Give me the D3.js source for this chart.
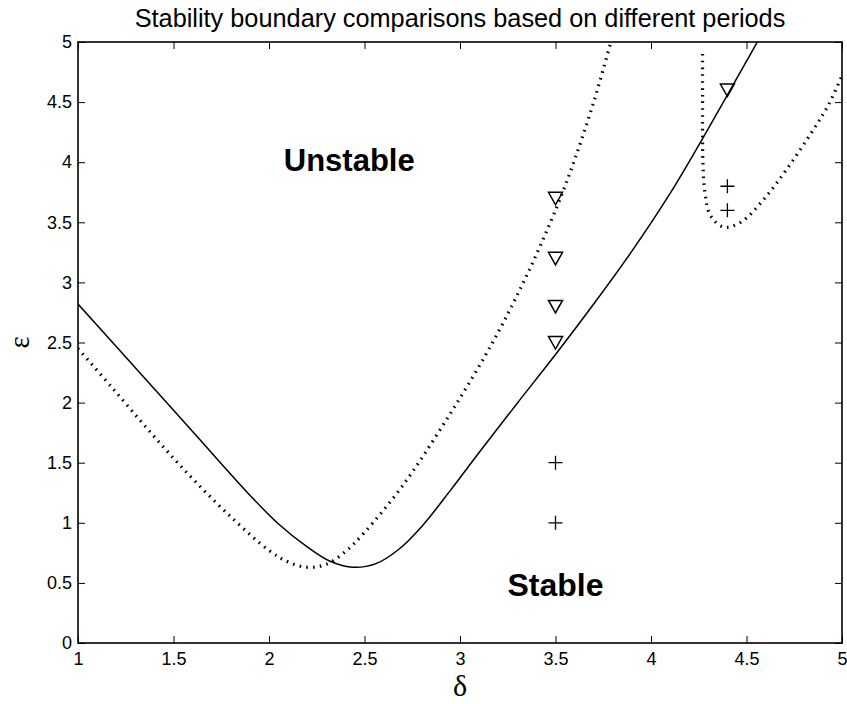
<!DOCTYPE html>
<html>
<head>
<meta charset="utf-8">
<script src="https://cdn.jsdelivr.net/npm/d3@7"></script>
<style>
  body { margin: 0; background: #fff; }
  text { fill: #000; }
</style>
</head>
<body>
<svg width="847" height="704"></svg>
<script>
// curve samples, [delta, epsilon]
const solidBoundary = [
  [1.00, 2.82], [1.30, 2.29], [1.60, 1.76], [1.90, 1.23], [2.05, 0.99],
  [2.20, 0.80], [2.32, 0.68], [2.44, 0.63], [2.56, 0.66], [2.68, 0.78],
  [2.80, 0.97], [2.95, 1.27], [3.10, 1.585], [3.30, 1.995], [3.50, 2.40],
  [3.70, 2.82], [3.90, 3.26], [4.10, 3.74], [4.30, 4.28], [4.50, 4.84],
  [4.56, 5.01]
];

const dottedBoundary = [
  [1.00, 2.45], [1.17, 2.14], [1.37, 1.77], [1.58, 1.40], [1.80, 1.05],
  [2.00, 0.77], [2.10, 0.675], [2.20, 0.63], [2.30, 0.655], [2.40, 0.76],
  [2.50, 0.92], [2.70, 1.31], [2.93, 1.86], [3.16, 2.47], [3.35, 3.06],
  [3.51, 3.64], [3.60, 4.02], [3.70, 4.50], [3.79, 5.00]
];

const dottedIsland = [
  [4.270, 4.90], [4.270, 4.55], [4.272, 3.99], [4.283, 3.74], [4.31, 3.56],
  [4.38, 3.46], [4.47, 3.50], [4.59, 3.69], [4.71, 3.94], [4.85, 4.27],
  [4.93, 4.48], [5.00, 4.72]
];

// test points
const unstablePoints = [[3.5, 3.7], [3.5, 3.2], [3.5, 2.8], [3.5, 2.5], [4.4, 4.6]];
const stablePoints = [[3.5, 1.5], [3.5, 1.0], [4.4, 3.8], [4.4, 3.6]];

const xTicks = [1, 1.5, 2, 2.5, 3, 3.5, 4, 4.5, 5];
const yTicks = [0, 0.5, 1, 1.5, 2, 2.5, 3, 3.5, 4, 4.5, 5];

const titleText = "Stability boundary comparisons based on different periods";

// layout
const margin = { top: 42, right: 5, bottom: 61, left: 78 };
const width = 847 - margin.left - margin.right;
const height = 704 - margin.top - margin.bottom;

const svg = d3.select("svg");
const sans = "'Liberation Sans', Arial, Helvetica, sans-serif";
const serif = "'Liberation Serif', 'Times New Roman', serif";

const x = d3.scaleLinear().domain([1, 5]).range([0, width]);
const y = d3.scaleLinear().domain([0, 5]).range([height, 0]);

const g = svg.append("g")
  .attr("transform", "translate(" + margin.left + "," + margin.top + ")");

svg.append("defs").append("clipPath")
  .attr("id", "plot-clip")
  .append("rect")
  .attr("width", width)
  .attr("height", height);

// axes, ticks pointing inwards on all four sides
const fmt = d => String(d);

g.append("g")
  .attr("class", "axis")
  .attr("transform", "translate(0," + height + ")")
  .call(d3.axisBottom(x).tickValues(xTicks).tickFormat(fmt).tickSizeInner(-7).tickSizeOuter(0).tickPadding(9));

g.append("g")
  .attr("class", "axis")
  .call(d3.axisLeft(y).tickValues(yTicks).tickFormat(fmt).tickSizeInner(-7).tickSizeOuter(0).tickPadding(6));

g.append("g")
  .attr("class", "axis")
  .call(d3.axisTop(x).tickValues(xTicks).tickFormat("").tickSizeInner(-7).tickSizeOuter(0));

g.append("g")
  .attr("class", "axis")
  .attr("transform", "translate(" + width + ",0)")
  .call(d3.axisRight(y).tickValues(yTicks).tickFormat("").tickSizeInner(-7).tickSizeOuter(0));

g.selectAll(".axis .domain").remove();
g.selectAll(".axis line").attr("stroke", "#000").attr("stroke-width", 1);
g.selectAll(".axis text")
  .style("font-family", sans)
  .style("font-size", "18px")
  .attr("fill", "#000");

g.append("rect")
  .attr("width", width)
  .attr("height", height)
  .attr("fill", "none")
  .attr("stroke", "#000")
  .attr("stroke-width", 1.6);

// boundaries
const line = d3.line()
  .x(d => x(d[0]))
  .y(d => y(d[1]))
  .curve(d3.curveCatmullRom.alpha(0.5));

const curves = g.append("g").attr("clip-path", "url(#plot-clip)");

curves.append("path")
  .datum(solidBoundary)
  .attr("d", line)
  .attr("fill", "none")
  .attr("stroke", "#000")
  .attr("stroke-width", 1.5);

curves.selectAll(".dotted")
  .data([dottedBoundary, dottedIsland])
  .enter()
  .append("path")
  .attr("class", "dotted")
  .attr("d", line)
  .attr("fill", "none")
  .attr("stroke", "#000")
  .attr("stroke-width", 3.2)
  .attr("stroke-dasharray", "1.6 5.2");

// markers
const triangle = "M-7,-6L7,-6L0,6.5Z";
const plus = "M-7,0H7M0,-7V7";

g.selectAll(".unstable")
  .data(unstablePoints)
  .enter()
  .append("path")
  .attr("class", "unstable")
  .attr("transform", d => "translate(" + x(d[0]) + "," + y(d[1]) + ")")
  .attr("d", triangle)
  .attr("fill", "none")
  .attr("stroke", "#000")
  .attr("stroke-width", 1.5);

g.selectAll(".stable")
  .data(stablePoints)
  .enter()
  .append("path")
  .attr("class", "stable")
  .attr("transform", d => "translate(" + x(d[0]) + "," + y(d[1]) + ")")
  .attr("d", plus)
  .attr("fill", "none")
  .attr("stroke", "#000")
  .attr("stroke-width", 1.3);

// region labels
g.append("text")
  .attr("x", x(2.42))
  .attr("y", y(3.93))
  .attr("text-anchor", "middle")
  .style("font-family", sans)
  .style("font-weight", "bold")
  .style("font-size", "31px")
  .text("Unstable");

g.append("text")
  .attr("x", x(3.5))
  .attr("y", y(0.39))
  .attr("text-anchor", "middle")
  .style("font-family", sans)
  .style("font-weight", "bold")
  .style("font-size", "32px")
  .text("Stable");

// title and axis labels
svg.append("text")
  .attr("x", margin.left + width / 2)
  .attr("y", 27)
  .attr("text-anchor", "middle")
  .style("font-family", sans)
  .style("font-size", "25.3px")
  .text(titleText);

svg.append("text")
  .attr("x", margin.left + width / 2)
  .attr("y", 696)
  .attr("text-anchor", "middle")
  .style("font-family", serif)
  .style("font-size", "30px")
  .text("δ");

svg.append("text")
  .attr("transform", "translate(29," + (margin.top + height / 2) + ") rotate(-90)")
  .attr("text-anchor", "middle")
  .style("font-family", serif)
  .style("font-size", "29px")
  .text("ε");
</script>
</body>
</html>
